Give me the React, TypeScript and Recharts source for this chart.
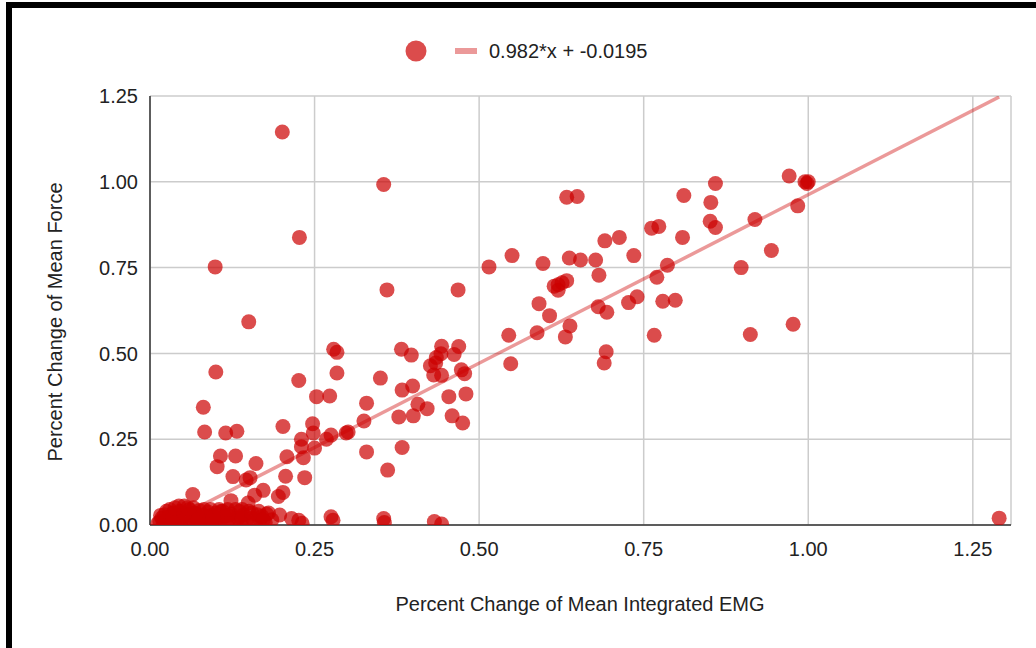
import React from 'react';
import { ScatterChart, Scatter, XAxis, YAxis, CartesianGrid } from 'recharts';

// regression fit shown in the legend
const SLOPE = 0.982;
const INTERCEPT = -0.0195;

const X_TICKS = [0, 0.25, 0.5, 0.75, 1, 1.25];
const Y_TICKS = [0, 0.25, 0.5, 0.75, 1, 1.25];

// [EMG change, force change] pairs

// trials with almost no change, packed against the origin
const nearZero: [number, number][] = [
  [0.012, 0.005], [0.015, 0.01], [0.018, 0.02], [0.02, 0.003], [0.022, 0.03],
  [0.025, 0.012], [0.028, 0.022], [0.03, 0.002], [0.032, 0.015], [0.035, 0.035],
  [0.037, 0.008], [0.04, 0.025], [0.042, 0.012], [0.045, 0.04], [0.047, 0.003],
  [0.05, 0.02], [0.052, 0.055], [0.055, 0.01], [0.058, 0.03], [0.06, 0.045],
  [0.062, 0.005], [0.065, 0.018], [0.068, 0.035], [0.07, 0.008], [0.072, 0.025],
  [0.075, 0.042], [0.078, 0.012], [0.08, 0.03], [0.083, 0.002], [0.085, 0.02],
  [0.088, 0.038], [0.09, 0.01], [0.093, 0.028], [0.095, 0.015], [0.098, 0.005],
  [0.1, 0.035], [0.103, 0.02], [0.106, 0.01], [0.11, 0.04], [0.113, 0.025],
  [0.116, 0.005], [0.12, 0.015], [0.123, 0.032], [0.127, 0.01], [0.13, 0.045],
  [0.134, 0.02], [0.138, 0.005], [0.142, 0.03], [0.146, 0.012], [0.15, 0.04],
  [0.155, 0.02], [0.16, 0.005], [0.163, 0.03], [0.167, 0.015], [0.17, 0.025],
  [0.175, 0.008], [0.18, 0.035], [0.185, 0.015], [0.044, 0.055], [0.108, 0.039],
  [0.136, 0.039], [0.177, 0.032], [0.197, 0.029], [0.215, 0.019], [0.226, 0.014],
  [0.231, 0.005], [0.016, 0.028], [0.025, 0.04], [0.03, 0.045], [0.035, 0.022],
  [0.038, 0.05], [0.052, 0.033], [0.057, 0.05], [0.066, 0.05], [0.073, 0.015],
  [0.082, 0.045], [0.092, 0.045], [0.096, 0.022], [0.105, 0.045], [0.118, 0.028],
  [0.118, 0.045], [0.14, 0.018], [0.14, 0.045], [0.155, 0.035], [0.165, 0.04],
  [0.172, 0.015],
];

// force barely moved although EMG did
const flatForce: [number, number][] = [
  [0.275, 0.024], [0.278, 0.014], [0.355, 0.019], [0.356, 0.007],
  [0.432, 0.01], [0.443, 0.003], [1.29, 0.02],
];

const lowRange: [number, number][] = [
  [0.065, 0.089], [0.123, 0.071], [0.149, 0.064], [0.159, 0.087], [0.172, 0.101],
  [0.195, 0.083], [0.202, 0.095], [0.126, 0.141], [0.146, 0.131], [0.152, 0.138],
  [0.206, 0.142], [0.235, 0.138], [0.102, 0.17], [0.161, 0.179], [0.107, 0.201],
  [0.13, 0.201], [0.208, 0.199], [0.233, 0.196], [0.23, 0.228], [0.25, 0.224],
  [0.23, 0.25], [0.248, 0.268], [0.268, 0.25], [0.275, 0.262], [0.298, 0.268],
  [0.301, 0.271], [0.083, 0.271], [0.115, 0.268], [0.132, 0.273], [0.202, 0.287],
  [0.247, 0.295], [0.081, 0.343], [0.253, 0.374], [0.273, 0.376], [0.226, 0.421],
  [0.1, 0.446], [0.284, 0.443], [0.361, 0.16], [0.329, 0.213], [0.383, 0.226],
  [0.325, 0.303], [0.329, 0.355],
];

const midRange: [number, number][] = [
  [0.279, 0.512], [0.284, 0.503], [0.382, 0.512], [0.397, 0.495], [0.443, 0.521],
  [0.469, 0.52], [0.462, 0.497], [0.442, 0.499], [0.435, 0.488], [0.426, 0.464],
  [0.434, 0.472], [0.431, 0.437], [0.443, 0.436], [0.473, 0.452], [0.478, 0.441],
  [0.35, 0.428], [0.383, 0.393], [0.399, 0.405], [0.407, 0.352], [0.421, 0.339],
  [0.378, 0.315], [0.4, 0.318], [0.454, 0.374], [0.48, 0.382], [0.459, 0.318],
  [0.475, 0.297], [0.548, 0.47], [0.545, 0.553], [0.588, 0.56], [0.631, 0.548],
  [0.638, 0.58], [0.607, 0.61], [0.591, 0.645], [0.693, 0.505], [0.69, 0.472],
  [0.766, 0.553], [0.912, 0.555], [0.977, 0.585], [0.15, 0.592],
];

const highRange: [number, number][] = [
  [0.515, 0.752], [0.55, 0.785], [0.597, 0.762], [0.637, 0.778], [0.654, 0.772],
  [0.677, 0.772], [0.682, 0.728], [0.633, 0.712], [0.62, 0.7], [0.614, 0.696],
  [0.62, 0.684], [0.626, 0.706], [0.681, 0.636], [0.694, 0.62], [0.727, 0.648],
  [0.74, 0.665], [0.779, 0.652], [0.798, 0.655], [0.77, 0.722], [0.786, 0.757],
  [0.735, 0.785], [0.713, 0.838], [0.691, 0.828], [0.762, 0.865], [0.773, 0.87],
  [0.809, 0.838], [0.851, 0.885], [0.859, 0.867], [0.852, 0.94], [0.811, 0.96],
  [0.859, 0.995], [0.633, 0.955], [0.649, 0.957], [0.898, 0.75], [0.944, 0.8],
  [0.919, 0.89], [0.984, 0.93], [0.971, 1.017], [0.995, 1.0], [1.0, 1.0],
  [0.998, 0.995], [0.36, 0.685], [0.468, 0.685],
];

const outliers: [number, number][] = [
  [0.201, 1.145], [0.355, 0.992], [0.227, 0.838], [0.099, 0.752],
];

const points = [...nearZero, ...flatForce, ...lowRange, ...midRange, ...highRange, ...outliers]
  .map(([x, y]) => ({ x, y }));

const xMax = Math.max(...points.map((p) => p.x));
const trend = [
  { x: -INTERCEPT / SLOPE, y: 0 },
  { x: xMax, y: SLOPE * xMax + INTERCEPT },
];

const RED = '#cc0000';
const FONT = "'Liberation Sans', Arial, sans-serif";

const Dot = (props: any) => (
  <circle cx={props.cx} cy={props.cy} r={7.5} fill={RED} fillOpacity={0.7} />
);

const fmt = (v: number) => v.toFixed(2);

const App = () => {
  return (
    <div style={{ position: 'absolute', left: 0, top: 0, width: 1036, height: 648, background: '#fff', fontFamily: FONT }}>
      <ScatterChart width={1036} height={648} margin={{ top: 96, right: 25, bottom: 0, left: 0 }}>
        <CartesianGrid stroke="#cccccc" strokeWidth={1.5} />
        <XAxis
          type="number"
          dataKey="x"
          domain={[0, 1.308]}
          ticks={X_TICKS}
          tickFormatter={fmt}
          allowDataOverflow
          height={123}
          axisLine={{ stroke: '#333', strokeWidth: 1.5 }}
          tickLine={false}
          tickSize={0}
          tickMargin={17}
          tick={{ fill: '#222', fontSize: 20, fontFamily: FONT }}
        />
        <YAxis
          type="number"
          dataKey="y"
          domain={[0, 1.25]}
          ticks={Y_TICKS}
          tickFormatter={fmt}
          allowDataOverflow
          width={150}
          axisLine={{ stroke: '#333', strokeWidth: 1.5 }}
          tickLine={false}
          tickSize={0}
          tickMargin={12}
          tick={{ fill: '#222', fontSize: 20, fontFamily: FONT }}
        />
        <Scatter
          data={trend}
          line={{ stroke: RED, strokeOpacity: 0.4, strokeWidth: 3.5 }}
          shape={() => <g />}
          legendType="none"
          isAnimationActive={false}
        />
        <Scatter data={points} shape={Dot} isAnimationActive={false} />
      </ScatterChart>

      {/* titles and legend */}
      <svg width={1036} height={648} style={{ position: 'absolute', left: 0, top: 0, pointerEvents: 'none' }}>
        <circle cx={416} cy={51} r={10.5} fill={RED} fillOpacity={0.7} />
        <rect x={455} y={48} width={22} height={6} fill={RED} fillOpacity={0.4} />
        <text x={489} y={58} fontSize={20} fontFamily={FONT} fill="#222">0.982*x + -0.0195</text>
        <text x={580} y={611} fontSize={20} fontFamily={FONT} fill="#222" textAnchor="middle">
          Percent Change of Mean Integrated EMG
        </text>
        <text
          x={62}
          y={322}
          fontSize={20}
          fontFamily={FONT}
          fill="#222"
          textAnchor="middle"
          transform="rotate(-90 62 322)"
        >
          Percent Change of Mean Force
        </text>
      </svg>

      {/* frame edges */}
      <div style={{ position: 'absolute', left: 6, top: 2, width: 1030, height: 6, background: '#000' }} />
      <div style={{ position: 'absolute', left: 6, top: 2, width: 6, height: 646, background: '#000' }} />
    </div>
  );
};

export default App;
